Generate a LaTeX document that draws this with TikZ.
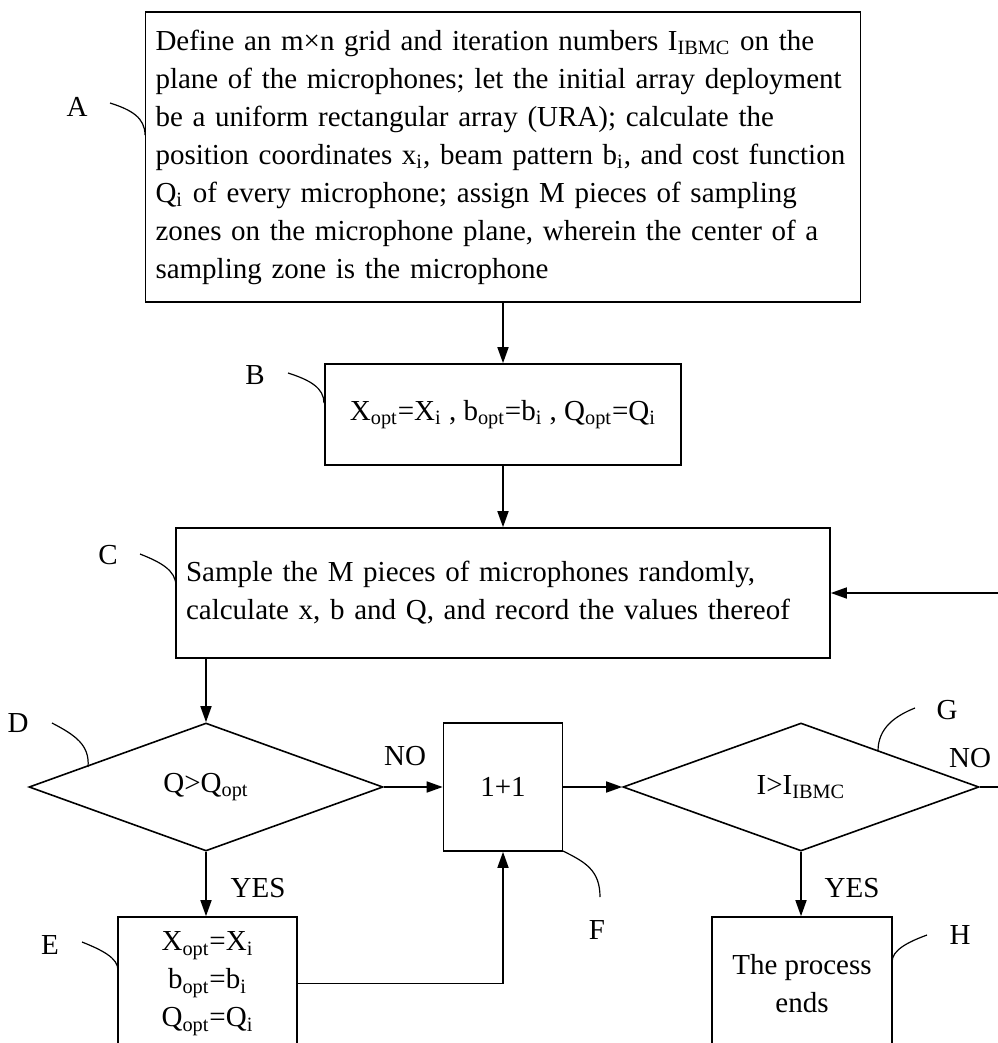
\documentclass[tikz,border=0pt]{standalone}
\usepackage{fontspec}
\setmainfont{Liberation Serif}
\usetikzlibrary{arrows.meta,shapes.geometric}
\newcommand{\sub}[1]{\textsubscript{#1}}

\begin{document}
\begin{tikzpicture}[x=0.5pt,y=-0.5pt,
  font=\fontsize{14.5}{19}\selectfont,
  box/.style={draw,line width=0.8pt,inner sep=0pt,align=center},
  dec/.style={draw,diamond,line width=0.8pt,inner sep=0pt},
  arr/.style={-{Triangle[length=8pt,width=5.5pt]},line width=0.8pt},
  lead/.style={line width=0.6pt}]

\useasboundingbox (0,0) rectangle (997,1043);

\node[box,text width=347.5pt,inner xsep=5pt,align=left,minimum height=145pt] (a) at (503,157)
  {Define an m×n grid and iteration numbers I\sub{IBMC} on the\\
   plane of the microphones; let the initial array deployment\\
   be a uniform rectangular array (URA); calculate the\\
   position coordinates x\sub{i}, beam pattern b\sub{i}, and cost function\\
   Q\sub{i} of every microphone; assign M pieces of sampling\\
   zones on the microphone plane, wherein the center of a\\
   sampling zone is the microphone};
\node[box,minimum width=178pt,minimum height=50.5pt] (b) at (503,414.5)
  {X\sub{opt}=X\sub{i}\ ,\ b\sub{opt}=b\sub{i}\ ,\ Q\sub{opt}=Q\sub{i}};
\node[box,text width=317pt,inner xsep=5pt,align=left,minimum height=65pt] (c) at (503,593)
  {Sample the M pieces of microphones randomly,\\
   calculate x, b and Q, and record the values thereof};
\node[dec,minimum width=177pt,minimum height=64pt] (d) at (206,787) {Q>Q\sub{opt}};
\node[box,minimum width=59.5pt,minimum height=64pt] (f) at (503,787) {1+1};
\node[dec,minimum width=178pt,minimum height=64pt] (g) at (801,787) {I>I\sub{IBMC}};
\node[box,minimum width=89.5pt,minimum height=66.5pt] (e) at (207.5,983.5)
  {X\sub{opt}=X\sub{i}\\b\sub{opt}=b\sub{i}\\Q\sub{opt}=Q\sub{i}};
\node[box,minimum width=90pt,minimum height=66.5pt] (h) at (802,983.5) {The process\\ends};

% branch labels
\node (no1) at (405,756) {NO};
\node (yes1) at (258,888) {YES};
\node (no2) at (970,758) {NO};
\node (yes2) at (852,888) {YES};

% step letters
\node (la) at (77,107) {A};
\node (lb) at (255,375) {B};
\node (lc) at (108,555) {C};
\node (ld) at (18,723) {D};
\node (le) at (50,945) {E};
\node (lf) at (597,930) {F};
\node (lg) at (947,710) {G};
\node (lh) at (960,935) {H};

\coordinate (back) at (1012,787);

\draw[arr] (a) -- (b);
\draw[arr] (b) -- (c);
\draw[arr] (c.south -| d.north) -- (d.north);
\draw[arr] (d) -- (f);
\draw[arr] (f) -- (g);
\draw[arr] (d.south) -- (d.south |- e.north);
\draw[arr] (g.south) -- (g.south |- h.north);
\draw[arr] (e.east) -| (f.south);
\draw[arr] (g.east) -- (back) |- (c.east);

% leaders
\draw[lead] (110,103) .. controls (132,110) and (145,118) .. (145,135);
\draw[lead] (288,373) .. controls (310,380) and (324,388) .. (324,403);
\draw[lead] (140,554) .. controls (160,562) and (176,570) .. (176,586);
\draw[lead] (52,723) .. controls (75,735) and (90,745) .. (88,767);
\draw[lead] (82,942) .. controls (102,950) and (118,958) .. (118,970);
\draw[lead] (563,851) .. controls (585,862) and (600,870) .. (600,897);
\draw[lead] (915,708) .. controls (895,716) and (878,728) .. (878,751);
\draw[lead] (927,935) .. controls (908,942) and (892,950) .. (892,962);

\end{tikzpicture}
\end{document}
